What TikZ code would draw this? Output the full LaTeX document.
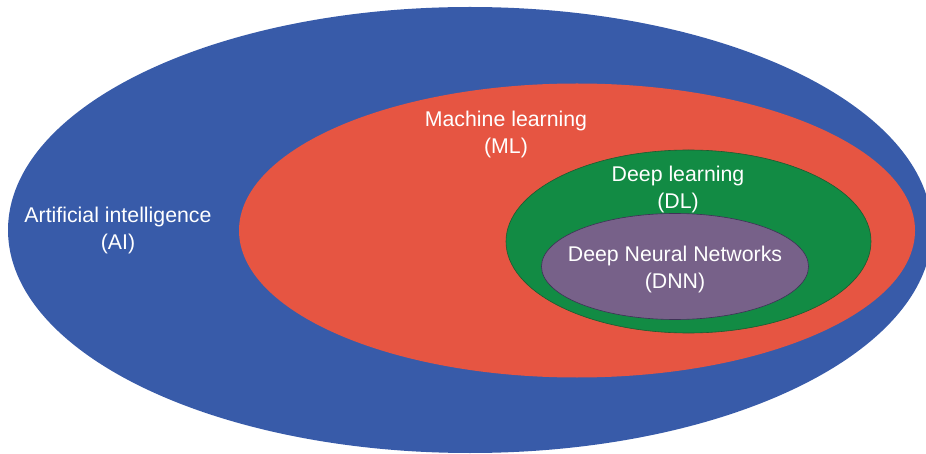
\documentclass[tikz,border=0pt]{standalone}
\usepackage{fontspec}
\setmainfont{Liberation Sans}
\usetikzlibrary{shapes.geometric}
\definecolor{aiblue}{HTML}{385BA9}
\definecolor{mlred}{HTML}{E65542}
\definecolor{dlgreen}{HTML}{128B44}
\definecolor{dlline}{HTML}{1E5A30}
\definecolor{dnnpurple}{HTML}{776189}
\definecolor{dnnline}{HTML}{3E3256}
\tikzset{
  blob/.style={ellipse, inner sep=0pt, outer sep=0pt},
  lab/.style={text=white, align=center, font=\fontsize{21.3}{27}\selectfont, inner sep=0pt}
}
\begin{document}
\begin{tikzpicture}[x=1pt,y=-1pt]
\useasboundingbox (0,0) rectangle (926,454);
\clip (0,0) rectangle (926,454);
\node[blob, fill=aiblue, minimum width=924pt, minimum height=446pt] (ai) at (470,230) {};
\node[blob, fill=mlred, minimum width=676pt, minimum height=294pt] (ml) at (577,230.5) {};
\node[blob, fill=dlgreen, draw=dlline, line width=0.6pt, minimum width=365pt, minimum height=183pt] (dl) at (688.5,241.5) {};
\node[blob, fill=dnnpurple, draw=dnnline, line width=0.6pt, minimum width=267pt, minimum height=106pt] (dnn) at (675,266.5) {};
\node[lab] (ailab) at (118,230) {Artificial intelligence\\(AI)};
\node[lab] (mllab) at (506,134) {Machine learning\\(ML)};
\node[lab] (dllab) at (678,189) {Deep learning\\(DL)};
\node[lab] (dnnlab) at (675,269) {Deep Neural Networks\\(DNN)};
\end{tikzpicture}
\end{document}
